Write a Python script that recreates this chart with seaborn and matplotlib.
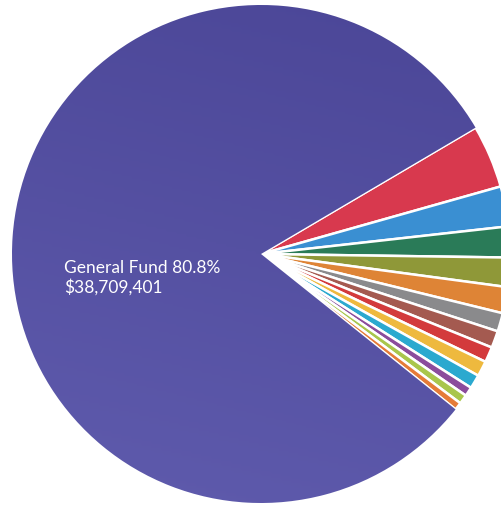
import numpy as np
import matplotlib
matplotlib.use("Agg")
import matplotlib.pyplot as plt
import seaborn as sns

sns.set_style("white")
plt.rcParams['font.family'] = ['Lato', 'DejaVu Sans']

funds = ["General Fund", "Fund 2", "Fund 3", "Fund 4", "Fund 5", "Fund 6", "Fund 7",
         "Fund 8", "Fund 9", "Fund 10", "Fund 11", "Fund 12", "Fund 13", "Fund 14"]
shares = [80.8, 4.1, 2.6, 2.0, 1.9, 1.7, 1.2, 1.1, 1.0, 1.0, 0.9, 0.6, 0.6, 0.5]
colors = ["#5450a3", "#d8394e", "#3a8fd2", "#2a7b58", "#8f9838", "#de8436", "#8a8a8c",
          "#a45a50", "#d33a3c", "#eeb93e", "#2ba9cf", "#8b4c9c", "#a9c64c", "#e57b38"]
label_text = "General Fund 80.8%\n$38,709,401"

fig = plt.figure(figsize=(5.02, 5.06), dpi=100)
ax = fig.add_axes([0, 0, 1, 1])

# small slices clockwise from ~30 deg, General Fund last
order = list(range(1, len(shares))) + [0]
vals = [shares[i] for i in order]
cols = [colors[i] for i in order]
wedges, _ = ax.pie(vals, colors=cols, startangle=30.5, counterclock=False,
                   wedgeprops=dict(edgecolor="white", linewidth=1.8),
                   radius=1.0)

# subtle gradient on the General Fund wedge (darker top, lighter bottom)
gf = wedges[-1]
yy, xx = np.mgrid[1:-1:200j, -1:1:200j]
t = yy * 0.8 + xx * 0.2
ax.imshow(-t, extent=(-1, 1, -1, 1), cmap=matplotlib.colors.LinearSegmentedColormap.from_list(
    "g", ["#4b4697", "#5f5bad"]), clip_path=gf, zorder=1.5, aspect="auto")
gf.set_zorder(1)

ax.text(-0.79, -0.092, label_text, color="white", fontsize=12.5, ha="left", va="center",
        linespacing=1.2, zorder=3)

s = 249.0
cx, cy = 261.0, 255.0
ax.set_xlim(-cx / s, (502 - cx) / s)
ax.set_ylim(-(506 - cy) / s, cy / s)
ax.set_aspect("auto")
ax.axis("off")
fig.savefig("out.png", dpi=100)
